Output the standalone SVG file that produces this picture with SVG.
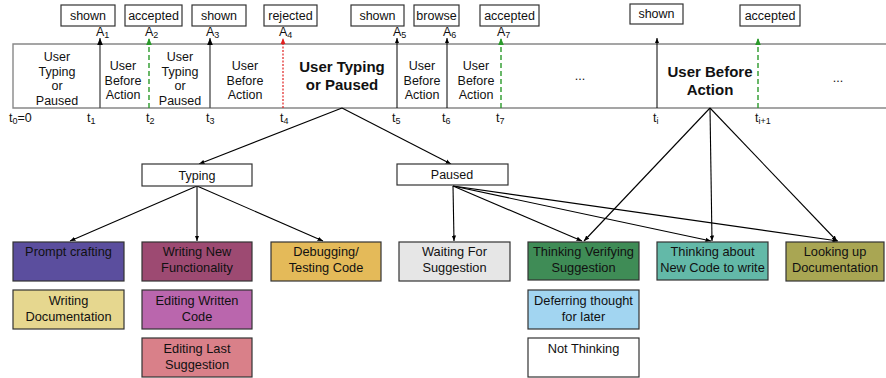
<svg xmlns="http://www.w3.org/2000/svg" width="886" height="378" viewBox="0 0 886 378">
<defs>
<marker id="ah" viewBox="0 0 10 10" refX="10" refY="5" markerWidth="5" markerHeight="5" orient="auto"><path d="M0,1 L10,5 L0,9 z" fill="#000"/></marker>
<marker id="ahg" viewBox="0 0 10 10" refX="10" refY="5" markerWidth="5" markerHeight="5" orient="auto"><path d="M0,1 L10,5 L0,9 z" fill="#2a9a2a"/></marker>
<marker id="ahr" viewBox="0 0 10 10" refX="10" refY="5" markerWidth="5" markerHeight="5" orient="auto"><path d="M0,1 L10,5 L0,9 z" fill="#e02020"/></marker>
</defs>
<style>
text{font-family:"Liberation Sans",Arial,sans-serif;fill:#111;}
.t{font-size:12.5px;text-anchor:middle;}
.bt{font-size:12.8px;text-anchor:middle;}
.b{font-size:15px;font-weight:bold;text-anchor:middle;}
.lab{fill:#fff;stroke:#333;stroke-width:1.2;}
.box{stroke:#333;stroke-width:1.2;}
.tl{stroke:#888;stroke-width:1.4;fill:none;}
.ev{stroke:#555;stroke-width:1.4;}
.evb{stroke:#000;stroke-width:1;}
.acc{stroke:#2a9a2a;stroke-width:1.4;stroke-dasharray:5,3;}
.rej{stroke:#e02020;stroke-width:1.2;stroke-dasharray:2,1.5;}
.c{stroke:#000;stroke-width:1.1;fill:none;marker-end:url(#ah);}
.s{font-size:12.5px;}
.sub{font-size:9px;}
</style>

<g id="timeline">
<path class="tl" d="M886,44 H13 V108 H886"/>
</g>

<g id="events">
<line class="ev" x1="100" y1="108" x2="100" y2="38" marker-end="url(#ah)"/>
<line class="acc" x1="149" y1="108" x2="149" y2="38" marker-end="url(#ahg)"/>
<line class="ev" x1="210" y1="108" x2="210" y2="38" marker-end="url(#ah)"/>
<line class="rej" x1="283" y1="108" x2="283" y2="38" marker-end="url(#ahr)"/>
<line class="evb" x1="397" y1="108" x2="397" y2="38" marker-end="url(#ah)"/>
<line class="evb" x1="447" y1="108" x2="447" y2="38" marker-end="url(#ah)"/>
<line class="acc" x1="501" y1="108" x2="501" y2="38" marker-end="url(#ahg)"/>
<line class="evb" x1="657" y1="108" x2="657" y2="38" marker-end="url(#ah)"/>
<line class="acc" x1="758" y1="108" x2="758" y2="38" marker-end="url(#ahg)"/>
</g>

<g id="action-labels">
<rect class="lab" x="61" y="5" width="54" height="21"/><text class="t" x="88" y="20">shown</text>
<rect class="lab" x="125" y="5" width="57" height="21"/><text class="t" x="153.5" y="20">accepted</text>
<rect class="lab" x="192" y="5" width="54" height="21"/><text class="t" x="219" y="20">shown</text>
<rect class="lab" x="264" y="5" width="53" height="21"/><text class="t" x="290.5" y="20">rejected</text>
<rect class="lab" x="351" y="5" width="53" height="21"/><text class="t" x="377.5" y="20">shown</text>
<rect class="lab" x="414" y="5" width="45" height="21"/><text class="t" x="436.5" y="20">browse</text>
<rect class="lab" x="480" y="5" width="59" height="21"/><text class="t" x="509.5" y="20">accepted</text>
<rect class="lab" x="630" y="4" width="53" height="20"/><text class="t" x="656.5" y="18">shown</text>
<rect class="lab" x="740" y="5" width="60" height="21"/><text class="t" x="770" y="20">accepted</text>
</g>

<g id="a-labels">
<text class="s" x="96" y="36">A<tspan class="sub" dy="2">1</tspan></text>
<text class="s" x="145" y="36">A<tspan class="sub" dy="2">2</tspan></text>
<text class="s" x="206" y="36">A<tspan class="sub" dy="2">3</tspan></text>
<text class="s" x="279" y="36">A<tspan class="sub" dy="2">4</tspan></text>
<text class="s" x="393" y="36">A<tspan class="sub" dy="2">5</tspan></text>
<text class="s" x="443" y="36">A<tspan class="sub" dy="2">6</tspan></text>
<text class="s" x="497" y="36">A<tspan class="sub" dy="2">7</tspan></text>
</g>

<g id="t-labels">
<text class="s" x="9" y="122">t<tspan class="sub" dy="2">0</tspan><tspan dy="-2">=0</tspan></text>
<text class="s" x="87" y="122">t<tspan class="sub" dy="2">1</tspan></text>
<text class="s" x="146" y="122">t<tspan class="sub" dy="2">2</tspan></text>
<text class="s" x="206" y="122">t<tspan class="sub" dy="2">3</tspan></text>
<text class="s" x="280" y="122">t<tspan class="sub" dy="2">4</tspan></text>
<text class="s" x="392" y="122">t<tspan class="sub" dy="2">5</tspan></text>
<text class="s" x="442" y="122">t<tspan class="sub" dy="2">6</tspan></text>
<text class="s" x="496" y="122">t<tspan class="sub" dy="2">7</tspan></text>
<text class="s" x="653" y="122">t<tspan class="sub" dy="2">i</tspan></text>
<text class="s" x="755" y="122">t<tspan class="sub" dy="2">i+1</tspan></text>
</g>

<g id="segments">
<text class="t" x="57" y="61">User</text><text class="t" x="57" y="75.5">Typing</text><text class="t" x="57" y="90">or</text><text class="t" x="57" y="104.5">Paused</text>
<text class="t" x="123" y="70">User</text><text class="t" x="123" y="84.5">Before</text><text class="t" x="123" y="99">Action</text>
<text class="t" x="180" y="61">User</text><text class="t" x="180" y="75.5">Typing</text><text class="t" x="180" y="90">or</text><text class="t" x="180" y="104.5">Paused</text>
<text class="t" x="245" y="70">User</text><text class="t" x="245" y="84.5">Before</text><text class="t" x="245" y="99">Action</text>
<text class="b" x="342" y="72">User Typing</text><text class="b" x="342" y="90">or Paused</text>
<text class="t" x="422" y="70">User</text><text class="t" x="422" y="84.5">Before</text><text class="t" x="422" y="99">Action</text>
<text class="t" x="476" y="70">User</text><text class="t" x="476" y="84.5">Before</text><text class="t" x="476" y="99">Action</text>
<text class="t" x="580" y="80">...</text>
<text class="b" x="710" y="77">User Before</text><text class="b" x="710" y="95">Action</text>
<text class="t" x="838" y="82">...</text>
</g>

<g id="connectors">
<line class="c" x1="342" y1="108" x2="199" y2="164"/>
<line class="c" x1="342" y1="108" x2="451" y2="164"/>
<line class="c" x1="197" y1="186" x2="70" y2="241"/>
<line class="c" x1="197" y1="186" x2="197" y2="241"/>
<line class="c" x1="197" y1="186" x2="323" y2="241"/>
<line class="c" x1="453" y1="186" x2="454" y2="241"/>
<line class="c" x1="453" y1="186" x2="582" y2="241"/>
<line class="c" x1="453" y1="186" x2="711" y2="241"/>
<line class="c" x1="453" y1="186" x2="838" y2="241"/>
<line class="c" x1="710" y1="108" x2="584" y2="241"/>
<line class="c" x1="710" y1="108" x2="712" y2="241"/>
<line class="c" x1="710" y1="108" x2="837" y2="241"/>
</g>

<g id="typing"><rect class="lab" x="142" y="164" width="110" height="22"/><text class="t" x="197" y="179.5">Typing</text></g>
<g id="paused"><rect class="lab" x="397" y="164" width="111" height="21"/><text class="t" x="452" y="179">Paused</text></g>

<g id="prompt-crafting"><rect class="box" x="13" y="242" width="111" height="39" fill="#5b4e9e"/><text class="bt" x="68.5" y="256">Prompt crafting</text></g>
<g id="writing-documentation"><rect class="box" x="13" y="290" width="111" height="39" fill="#e6d78f"/><text class="bt" x="68.5" y="305">Writing</text><text class="bt" x="68.5" y="320.5">Documentation</text></g>
<g id="writing-new"><rect class="box" x="142" y="242" width="110" height="39" fill="#9d4a72"/><text class="bt" x="197" y="256">Writing New</text><text class="bt" x="197" y="271.5">Functionality</text></g>
<g id="editing-written"><rect class="box" x="142" y="290" width="110" height="39" fill="#ba66ad"/><text class="bt" x="197" y="305">Editing Written</text><text class="bt" x="197" y="320.5">Code</text></g>
<g id="editing-last"><rect class="box" x="142" y="338" width="110" height="39" fill="#d98089"/><text class="bt" x="197" y="353">Editing Last</text><text class="bt" x="197" y="368.5">Suggestion</text></g>
<g id="debugging"><rect class="box" x="271" y="242" width="110" height="39" fill="#e4ba59"/><text class="bt" x="326" y="256">Debugging/</text><text class="bt" x="326" y="271.5">Testing Code</text></g>
<g id="waiting"><rect class="box" x="399" y="242" width="111" height="39" fill="#e6e6e6"/><text class="bt" x="454.5" y="256">Waiting For</text><text class="bt" x="454.5" y="271.5">Suggestion</text></g>
<g id="thinking-verifying"><rect class="box" x="528" y="242" width="111" height="38" fill="#3f8c56"/><text class="bt" x="583.5" y="256">Thinking Verifying</text><text class="bt" x="583.5" y="271.5">Suggestion</text></g>
<g id="deferring"><rect class="box" x="528" y="290" width="111" height="39" fill="#a2d5f1"/><text class="bt" x="583.5" y="305">Deferring thought</text><text class="bt" x="583.5" y="320.5">for later</text></g>
<g id="not-thinking"><rect class="box" x="528" y="338" width="111" height="39" fill="#ffffff"/><text class="bt" x="583.5" y="353">Not Thinking</text></g>
<g id="thinking-about"><rect class="box" x="657" y="242" width="111" height="38" fill="#63b9a8"/><text class="bt" x="712.5" y="256">Thinking about</text><text class="bt" x="712.5" y="271.5">New Code to write</text></g>
<g id="looking-up"><rect class="box" x="786" y="242" width="98" height="39" fill="#a9a653"/><text class="bt" x="835" y="256">Looking up</text><text class="bt" x="835" y="271.5">Documentation</text></g>
</svg>
